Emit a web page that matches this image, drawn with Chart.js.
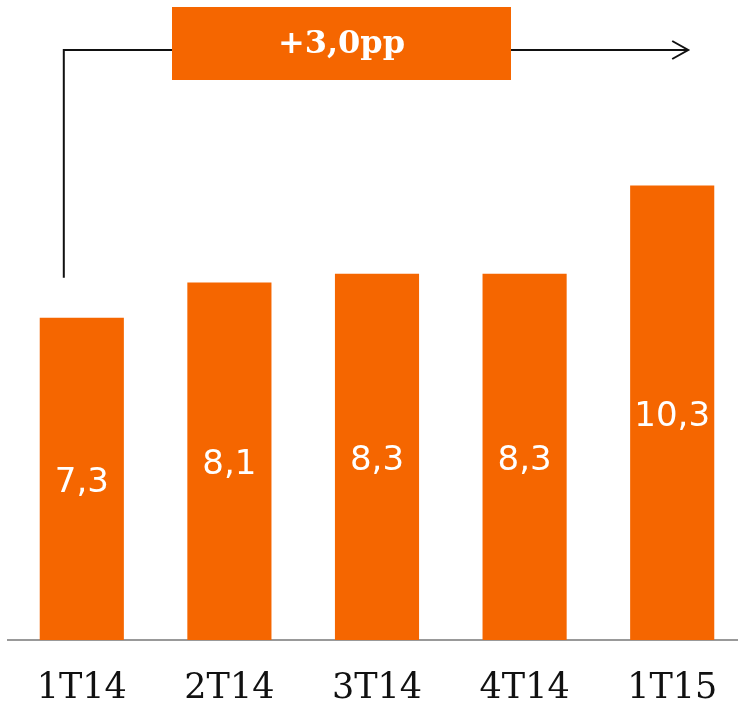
<!DOCTYPE html>
<html>
<head>
<meta charset="utf-8">
<script src="https://cdn.jsdelivr.net/npm/chart.js"></script>
<style>
  html, body { margin: 0; padding: 0; background: #fff; overflow: hidden; }
  #wrap { width: 738px; height: 703px; overflow: hidden; }
</style>
</head>
<body>
<div id="wrap"><canvas id="c" width="746" height="738"></canvas></div>
<script>
const quarters = ['1T14', '2T14', '3T14', '4T14', '1T15'];
const values = [7.3, 8.1, 8.3, 8.3, 10.3];
const deltaLabel = '+3,0pp';

const ORANGE = '#f56600';

const fmt = v => v.toFixed(1).replace('.', ',');

const valueLabels = {
  id: 'valueLabels',
  afterDatasetsDraw(chart) {
    const ctx = chart.ctx;
    const meta = chart.getDatasetMeta(0);
    ctx.save();
    ctx.fillStyle = '#fff';
    ctx.font = '34px "DejaVu Sans"';
    ctx.textAlign = 'center';
    ctx.textBaseline = 'middle';
    meta.data.forEach((bar, i) => {
      const mid = (bar.y + bar.base) / 2;
      ctx.fillText(fmt(values[i]), bar.x, mid + 4);
    });
    ctx.restore();
  }
};

const deltaArrow = {
  id: 'deltaArrow',
  afterDraw(chart) {
    const ctx = chart.ctx;
    const x = chart.scales.x, y = chart.scales.y;
    const startX = x.getPixelForValue(0) - 18;
    const startY = y.getPixelForValue(values[0]) - 40;
    const lineY = 50;
    const endX = x.getPixelForValue(quarters.length - 1) + 16;
    const boxL = 172, boxR = 511, boxT = 7, boxB = 80;

    ctx.save();
    ctx.strokeStyle = '#111';
    ctx.lineWidth = 2;
    ctx.beginPath();
    ctx.moveTo(startX, startY);
    ctx.lineTo(startX, lineY);
    ctx.lineTo(boxL, lineY);
    ctx.moveTo(boxR, lineY);
    ctx.lineTo(endX, lineY);
    ctx.moveTo(endX - 16, lineY - 9);
    ctx.lineTo(endX, lineY);
    ctx.lineTo(endX - 16, lineY + 9);
    ctx.stroke();

    ctx.fillStyle = ORANGE;
    ctx.fillRect(boxL, boxT, boxR - boxL, boxB - boxT);
    ctx.fillStyle = '#fff';
    ctx.font = 'bold 32px "DejaVu Serif"';
    ctx.textAlign = 'center';
    ctx.textBaseline = 'middle';
    ctx.fillText(deltaLabel, (boxL + boxR) / 2, (boxT + boxB) / 2 + 1);
    ctx.restore();
  }
};

new Chart(document.getElementById('c'), {
  type: 'bar',
  data: {
    labels: quarters,
    datasets: [{
      data: values,
      backgroundColor: ORANGE,
      borderWidth: 0,
      categoryPercentage: 0.57,
      barPercentage: 1
    }]
  },
  options: {
    responsive: false,
    animation: false,
    devicePixelRatio: 1,
    layout: { padding: { left: 8, right: 0, top: 0, bottom: 0 } },
    plugins: { legend: { display: false }, tooltip: { enabled: false } },
    scales: {
      x: {
        grid: { display: false, drawTicks: false },
        border: { display: true, color: '#999', width: 2 },
        ticks: {
          color: '#111',
          padding: 28,
          font: { family: 'DejaVu Serif', size: 35 }
        }
      },
      y: {
        display: false,
        min: 0,
        max: 14.5
      }
    }
  },
  plugins: [valueLabels, deltaArrow]
});
</script>
</body>
</html>
